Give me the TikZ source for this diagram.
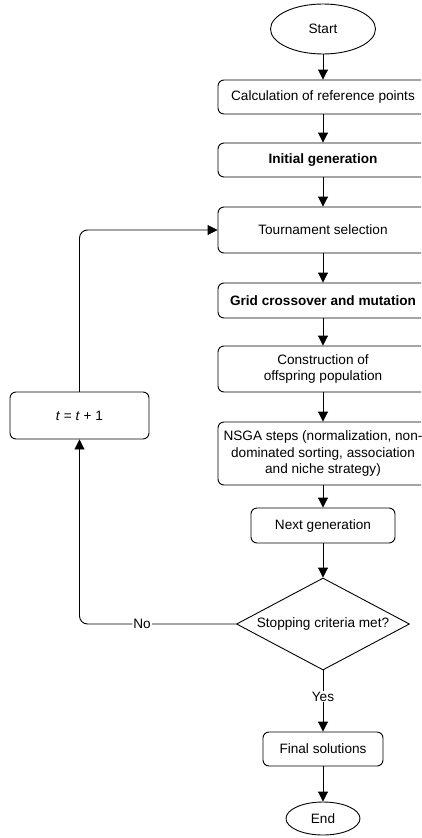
\documentclass[tikz,border=0pt]{standalone}
\usepackage{fontspec}
\setmainfont{Liberation Sans}
\usetikzlibrary{shapes.geometric,arrows.meta}

\tikzset{
	procbox/.style={draw, rounded corners=6pt, minimum width=210pt, minimum height=34pt, inner sep=0pt, align=center},
	termnode/.style={draw, ellipse, inner sep=0pt},
	decnode/.style={draw, diamond, aspect=1.9, inner sep=0pt, minimum width=173pt, minimum height=92pt},
	flow/.style={-{Triangle[width=10pt,length=10pt]}},
}

\begin{document}
\begin{tikzpicture}[x=1pt, y=-1pt, line width=0.9pt, line cap=round, line join=round,
		font=\fontsize{13.6}{16.6}\selectfont]
		
		\useasboundingbox (0,0) rectangle (421,838);
		\clip (0,0) rectangle (421,838);
		
		% Main column of the algorithm
		\node[termnode, minimum width=105pt, minimum height=50pt] (start) at (323,29) {Start};
		\node[procbox] (refpts) at (323,97) {Calculation of reference points};
		\node[procbox] (initgen) at (323,160) {\textbf{Initial generation}};
		\node[procbox, minimum height=46pt] (tourn) at (323,230) {Tournament selection};
		\node[procbox, minimum height=35pt] (cross) at (323,300.5) {\textbf{Grid crossover and mutation}};
		\node[procbox, minimum height=46pt] (offspr) at (323,369) {Construction of\\offspring population};
		\node[procbox, minimum height=63pt] (nsga) at (323,453.5) {NSGA steps (normalization, non-\\dominated sorting, association\\and niche strategy)};
		\node[procbox, minimum width=144pt, minimum height=35pt] (nextgen) at (323,525.5) {Next generation};
		\node[decnode] (stop) at (323,624) {Stopping criteria met?};
		\node[procbox, minimum width=120pt, minimum height=34pt] (final) at (323,749) {Final solutions};
		\node[termnode, minimum width=74pt, minimum height=33pt] (finish) at (323,818.5) {End};
		
		% Generation counter
		\node[procbox, minimum width=139pt, minimum height=47pt] (incr) at (79.5,415.5) {\textit{t} = \textit{t} + 1};
		
		% Arrows down the column
		\draw[flow] (start) -- (refpts);
		\draw[flow] (refpts) -- (initgen);
		\draw[flow] (initgen) -- (tourn);
		\draw[flow] (tourn) -- (cross);
		\draw[flow] (cross) -- (offspr);
		\draw[flow] (offspr) -- (nsga);
		\draw[flow] (nsga) -- (nextgen);
		\draw[flow] (nextgen) -- (stop);
		\draw[flow] (stop) -- node[fill=white, inner sep=1pt, pos=0.43] {Yes} (final);
		\draw[flow] (final) -- (finish);
		
		% Loop back for the next generation
		\draw[flow, rounded corners=8pt] (stop.west) -| node[fill=white, inner sep=1pt, pos=0.3] {No} (incr.south);
		\draw[flow, rounded corners=8pt] (incr.north) |- (tourn.west);
		
	\end{tikzpicture}
\end{document}
